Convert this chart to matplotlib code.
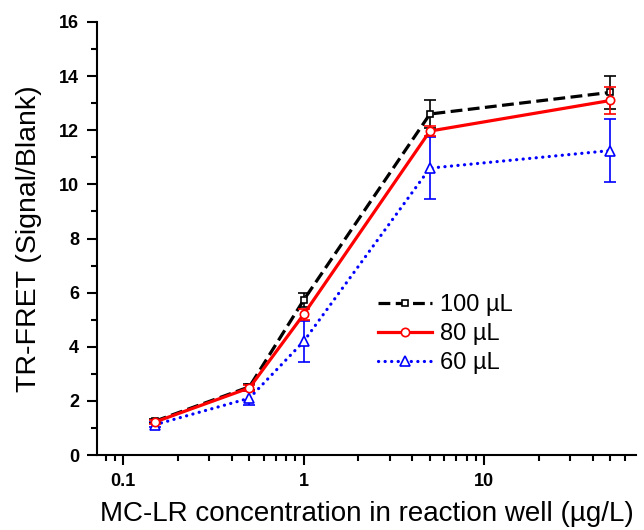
import matplotlib
matplotlib.use("Agg")
import matplotlib.pyplot as plt
from matplotlib.ticker import FixedLocator, NullFormatter, LogLocator

plt.rcParams['font.family'] = ['Liberation Sans', 'DejaVu Sans']

# data
conc = [0.15, 0.5, 1, 5, 50]
y100 = [1.25, 2.52, 5.73, 12.6, 13.4]
e100 = [0.08, 0.1, 0.25, 0.5, 0.6]
y80 = [1.22, 2.48, 5.2, 11.97, 13.1]
e80 = [0.08, 0.1, 0.2, 0.2, 0.5]
y60 = [1.12, 2.1, 4.2, 10.6, 11.25]
e60 = [0.1, 0.25, 0.75, 1.15, 1.15]
blank_x = 0.07
blank_y = 1.0
labels = ['100 µL', '80 µL', '60 µL']

fig = plt.figure(figsize=(6.44, 5.30), dpi=100)
ax = fig.add_axes([0.151, 0.1415, 0.837, 0.817])

eb100 = ax.errorbar(conc, y100, yerr=e100, color='black', ls=(0, (3.7, 1.7)), lw=2.3,
                    marker='s', ms=5, mfc='white', mec='black', mew=1.2,
                    capsize=4, elinewidth=1.2, capthick=1.2, zorder=3)
eb80 = ax.errorbar(conc, y80, yerr=e80, color='red', ls='-', lw=2.3,
                   marker='o', ms=6, mfc='white', mec='red', mew=1.2,
                   capsize=4, elinewidth=1.2, capthick=1.2, zorder=4)
eb60 = ax.errorbar(conc, y60, yerr=e60, color='blue', ls=(0, (0.05, 2.0)), lw=2.3,
                   marker='^', ms=7, mfc='white', mec='blue', mew=1.2,
                   capsize=4, elinewidth=1.2, capthick=1.2, zorder=2)
eb60[0].set_dash_capstyle('round')

# blank points sitting on the left edge
ax.plot([blank_x] * 3, [blank_y] * 3, ls='none', marker='|', ms=6, color='red', mew=2, zorder=5)

ax.set_xscale('log')
ax.set_xlim(0.0718, 69.5)
ax.set_ylim(0, 16)
ax.xaxis.set_major_locator(FixedLocator([0.1, 1, 10]))
ax.xaxis.set_major_formatter(plt.FuncFormatter(lambda v, p: {0.1: '0.1', 1: '1', 10: '10'}.get(v, '')))
ax.xaxis.set_minor_locator(LogLocator(base=10, subs=range(2, 10)))
ax.xaxis.set_minor_formatter(NullFormatter())
ax.set_yticks(range(0, 17, 2))
ax.set_yticks(range(1, 17, 2), minor=True)

for s in ['top', 'right']:
    ax.spines[s].set_visible(False)
for s in ['left', 'bottom']:
    ax.spines[s].set_linewidth(1.5)
ax.tick_params(which='major', length=7, width=1.5, direction='out', labelsize=13, pad=6)
ax.tick_params(which='minor', length=4, width=1.5, direction='out')
for t in ax.get_xticklabels() + ax.get_yticklabels():
    t.set_fontweight('bold')

ax.set_xlabel('MC-LR concentration in reaction well (µg/L)', fontsize=20, labelpad=8)
ax.set_ylabel('TR-FRET (Signal/Blank)', fontsize=20.5, labelpad=12)

leg = ax.legend([eb100[0], eb80[0], eb60[0]], labels, loc='upper left',
                bbox_to_anchor=(0.49, 0.41), frameon=False,
                fontsize=17, handlelength=2.3, handletextpad=0.35, labelspacing=0.3,
                borderpad=0.2)

fig.savefig('out.png', dpi=100)
